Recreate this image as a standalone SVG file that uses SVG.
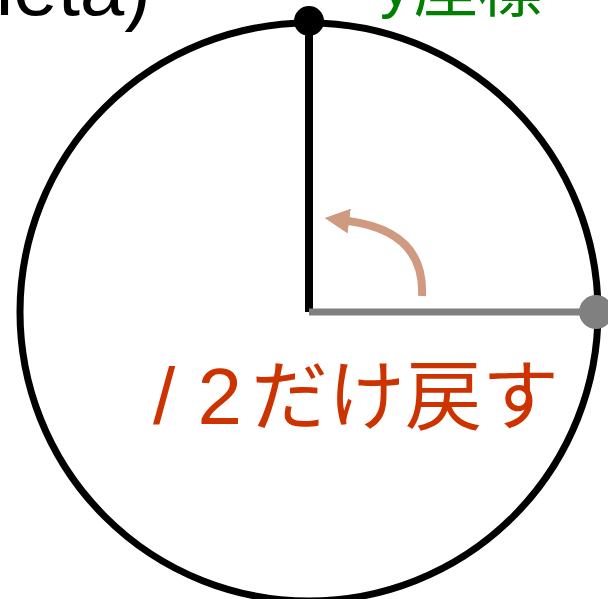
<svg xmlns="http://www.w3.org/2000/svg" width="608" height="599" viewBox="0 0 608 599">
<defs>
<style>
.t{font-family:"Liberation Sans","Noto Sans CJK JP",Arial,sans-serif;font-size:80px}
</style>
<marker id="ah" viewBox="0 0 10 10" refX="0.5" refY="5" markerWidth="3.1" markerHeight="3.1" orient="auto" markerUnits="strokeWidth">
<path d="M0,0 L10,5 L0,10 z" fill="#d09a80"/>
</marker>
</defs>
<rect width="608" height="599" fill="#ffffff"/>
<g id="circle"><circle cx="309" cy="312" r="289" fill="none" stroke="#000" stroke-width="7"/></g>
<g id="connectors">
<line x1="309" y1="312" x2="309" y2="21" stroke="#000" stroke-width="8"/>
<line x1="309" y1="312" x2="596" y2="312" stroke="#808080" stroke-width="7"/>
<path d="M422,296 Q425,231 348,221" fill="none" stroke="#d09a80" stroke-width="8" marker-end="url(#ah)"/>
</g>
<g id="dot-top"><circle cx="309" cy="21" r="15" fill="#000"/></g>
<g id="dot-right"><circle cx="596" cy="312" r="17" fill="#808080"/></g>
<g id="label-theta"><text class="t" x="151" y="15" text-anchor="end" fill="#000">theta)</text></g>
<g id="label-y"><text class="t" x="380" y="6" fill="#008000" style="font-size:64px">y<tspan dy="5" dx="2">座標</tspan></text></g>
<g id="label-back"><text class="t" x="153" y="424" fill="#cc3300">/ 2<tspan dx="9" style="font-size:77px">だけ戻す</tspan></text></g>
</svg>
